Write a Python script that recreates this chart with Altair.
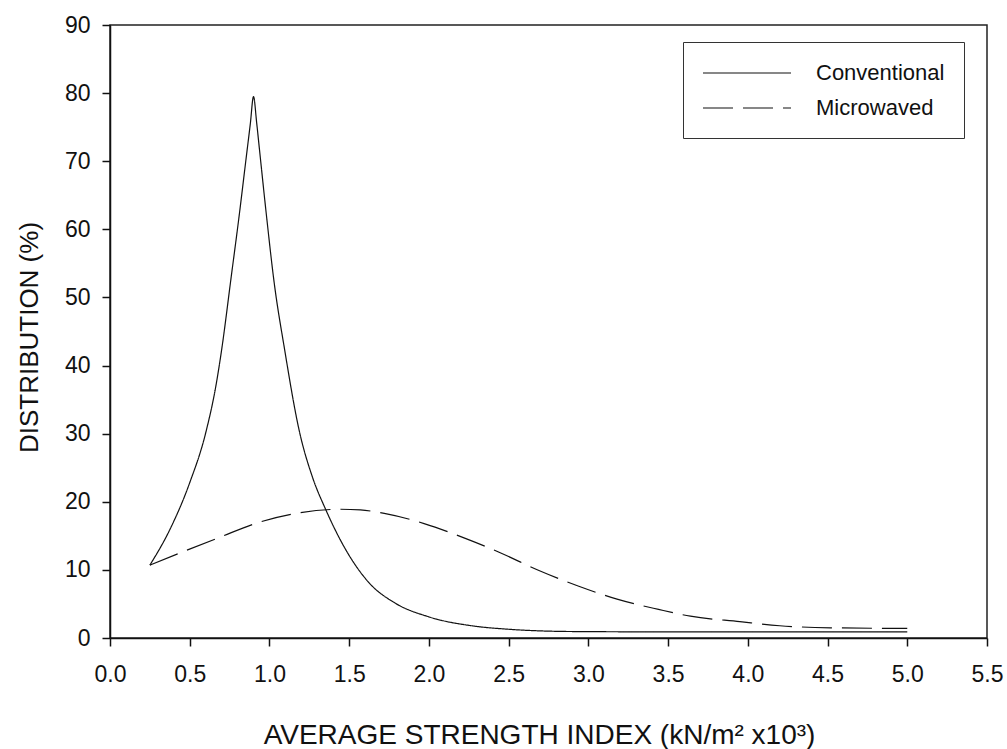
import altair as alt
import pandas as pd

# Strength-index distribution curves
conv_x = [0.25, 0.375, 0.50, 0.60, 0.667, 0.70, 0.76, 0.81, 0.854, 0.88, 0.90,
          0.92, 0.9375, 0.979, 1.03, 1.094, 1.19, 1.27, 1.354, 1.48, 1.625,
          1.79, 2.0, 2.28, 2.49, 2.9, 3.5, 4.0, 4.5, 5.0]
conv_y = [10.7, 15.9, 22.8, 30.1, 37.4, 42.3, 53.0, 62.0, 70.5, 75.5, 79.5,
          75.6, 71.7, 62.5, 52.1, 42.5, 30.1, 23.6, 18.8, 12.9, 8.1,
          5.1, 3.1, 1.76, 1.3, 0.95, 0.9, 0.9, 0.9, 0.9]

micro_x = [0.25, 0.44, 0.69, 0.91, 1.17, 1.44, 1.57, 1.72, 1.97, 2.22, 2.44,
           2.69, 2.94, 3.18, 3.44, 3.64, 3.95, 4.2, 4.52, 5.0]
micro_y = [10.7, 12.5, 14.8, 16.8, 18.3, 18.9, 18.8, 18.3, 16.8, 14.7, 12.6,
           9.9, 7.6, 5.7, 4.2, 3.2, 2.4, 1.8, 1.5, 1.4]

series_names = ["Conventional", "Microwaved"]
x_ticks = [0.0, 0.5, 1.0, 1.5, 2.0, 2.5, 3.0, 3.5, 4.0, 4.5, 5.0, 5.5]
y_ticks = [0, 10, 20, 30, 40, 50, 60, 70, 80, 90]

df = pd.concat([
    pd.DataFrame({"x": conv_x, "y": conv_y, "series": series_names[0], "order": range(len(conv_x))}),
    pd.DataFrame({"x": micro_x, "y": micro_y, "series": series_names[1], "order": range(len(micro_x))}),
])

FONT = "Liberation Sans"

chart = alt.Chart(df).mark_line(
    color="#111111", strokeWidth=1.2, interpolate="monotone"
).encode(
    x=alt.X("x:Q",
            scale=alt.Scale(domain=[0, 5.5], nice=False, zero=False),
            axis=alt.Axis(values=x_ticks, format=".1f",
                          title="AVERAGE STRENGTH INDEX (kN/m² x10³)",
                          titleX=429, titleY=105, titleAlign="center",
                          titleBaseline="alphabetic", titleFontSize=28,
                          labelFlush=False, labelPadding=17)),
    y=alt.Y("y:Q",
            scale=alt.Scale(domain=[0, 90], nice=False),
            axis=alt.Axis(values=y_ticks, format="d",
                          title="DISTRIBUTION (%)",
                          titleX=-73, titleY=312, titleAngle=-90,
                          titleAlign="center", titleBaseline="alphabetic",
                          titleFontSize=26, labelPadding=12)),
    strokeDash=alt.StrokeDash(
        "series:N",
        scale=alt.Scale(domain=series_names, range=[[1, 0], [30, 10]]),
        legend=alt.Legend(
            title=None, orient="none", legendX=573, legendY=17,
            symbolType="M-1,0H7", symbolSize=484, symbolStrokeWidth=1.2,
            symbolStrokeColor="#111111", labelFontSize=22, labelFont=FONT,
            labelColor="#111111", labelOffset=90, rowPadding=12,
            padding=19, strokeColor="#333333", fillColor="white",
        ),
    ),
    order="order:Q",
).properties(
    width=877,
    height=613,
    padding={"left": 110, "top": 25, "right": 20, "bottom": 111},
    autosize=alt.AutoSizeParams(type="none"),
    background="white",
).configure_view(
    stroke="#222222", strokeWidth=1.5
).configure_axis(
    grid=False,
    domainColor="#111111",
    domainWidth=1.5,
    tickColor="#111111",
    tickWidth=1.5,
    tickSize=8,
    labelFont=FONT,
    labelFontSize=23,
    labelColor="#111111",
    titleFont=FONT,
    titleFontWeight="normal",
    titleColor="#111111",
)

chart.save("out.html", embed_options={"renderer": "svg", "actions": False})
